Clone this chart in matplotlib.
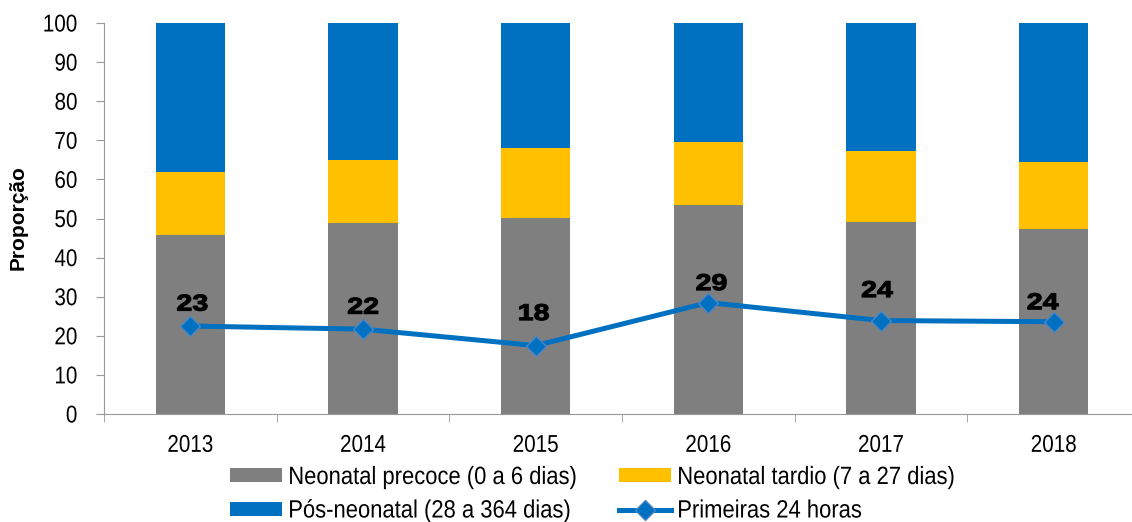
import numpy as np
import matplotlib
matplotlib.use("Agg")
import matplotlib.pyplot as plt
from matplotlib import patheffects
from matplotlib.transforms import Affine2D

plt.rcParams['font.family'] = ['Liberation Sans', 'DejaVu Sans']

# valores
anos = ['2013', '2014', '2015', '2016', '2017', '2018']
precoce = [45.9, 48.8, 50.1, 53.5, 49.2, 47.4]
tardio = [16.0, 16.2, 17.9, 16.1, 18.1, 17.1]
pos_neonatal = [38.1, 35.0, 32.0, 30.4, 32.7, 35.5]
primeiras_24h = [22.5, 21.7, 17.5, 28.5, 23.9, 23.6]
rotulos_24h = ['23', '22', '18', '29', '24', '24']
# deslocamento dos rotulos (pixels)
desloc = [(2, 22), (0, 22), (-2, 32), (3, 19), (-4, 30), (-11, 19)]

cinza = '#7F7F7F'
amarelo = '#FFC000'
azul = '#0070C0'


class Esticar(patheffects.AbstractPathEffect):
    """escala horizontal do texto (fonte estreita / larga)"""

    def __init__(self, sx, ancora='left', lw=0.0):
        super().__init__()
        self.sx = sx
        self.ancora = ancora
        self.lw = lw

    def draw_path(self, renderer, gc, tpath, affine, rgbFace=None):
        ext = tpath.get_extents()
        if self.ancora == 'center':
            cx = (ext.x0 + ext.x1) / 2
        elif self.ancora == 'right':
            cx = ext.x1
        else:
            cx = 0
        t = Affine2D().translate(-cx, 0).scale(self.sx, 1).translate(cx, 0) + affine
        gc0 = renderer.new_gc()
        gc0.copy_properties(gc)
        if self.lw > 0 and rgbFace is not None:
            gc0.set_linewidth(self.lw)
            gc0.set_foreground(rgbFace)
            gc0.set_joinstyle('round')
        renderer.draw_path(gc0, tpath, t, rgbFace)
        gc0.restore()


fig = plt.figure(figsize=(11.32, 5.22), dpi=100)
ax = fig.add_axes([104 / 1132, 108 / 522, 1036 / 1132, 391 / 522])

x = np.arange(len(anos))
w = 0.4
b1 = ax.bar(x, precoce, w, color=cinza, label='Neonatal precoce (0 a 6 dias)')
b2 = ax.bar(x, tardio, w, bottom=precoce, color=amarelo,
            label='Neonatal tardio (7 a 27 dias)')
base2 = np.array(precoce) + np.array(tardio)
b3 = ax.bar(x, pos_neonatal, w, bottom=base2, color=azul,
            label='Pós-neonatal (28 a 364 dias)')
ln, = ax.plot(x, primeiras_24h, color=azul, lw=3.6, marker='D', ms=10,
              mfc=azul, mec='#4A86C8', mew=1, label='Primeiras 24 horas')

for i, (v, t) in enumerate(zip(primeiras_24h, rotulos_24h)):
    ax.annotate(t, (x[i], v), xytext=desloc[i], textcoords='offset pixels',
                ha='center', va='center', fontsize=16.5, fontweight='bold',
                path_effects=[Esticar(1.25, 'center', lw=0.8)])

ax.set_xlim(-0.5, len(anos) - 0.5)
ax.set_ylim(0, 100)
ax.set_yticks(range(0, 101, 10))
ax.set_xticks(x)
ax.set_xticklabels(anos)
ax.set_xticks(np.arange(-0.5, len(anos)), minor=True)
ax.tick_params(axis='x', which='major', length=0, pad=15, labelsize=17.5)
ax.tick_params(axis='x', which='minor', length=5.5, color='#999999', direction='out')
ax.tick_params(axis='y', length=5.5, color='#999999', labelsize=17.5, pad=13.5)
for lab in ax.get_xticklabels():
    lab.set_path_effects([Esticar(0.85, 'center')])
for lab in ax.get_yticklabels():
    lab.set_path_effects([Esticar(0.85, 'right')])

for s in ['top', 'right']:
    ax.spines[s].set_visible(False)
for s in ['left', 'bottom']:
    ax.spines[s].set_color('#999999')

fig.text(18 / 1132, 1 - 218 / 522, 'Proporção', rotation=90, ha='center',
         va='center', fontsize=15, fontweight='bold')

leg_kw = dict(loc='upper left', frameon=False, fontsize=18, borderpad=0,
              borderaxespad=0, handlelength=2.08, handleheight=0.5,
              handletextpad=0.25, labelspacing=0.38)
leg1 = fig.legend([b1, b3], [b1.get_label(), b3.get_label()],
                  bbox_to_anchor=(230 / 1132, 1 - 465 / 522), **leg_kw)
leg2 = fig.legend([b2, ln], [b2.get_label(), ln.get_label()],
                  bbox_to_anchor=(619 / 1132, 1 - 465 / 522), **leg_kw)
for leg in (leg1, leg2):
    for txt in leg.get_texts():
        txt.set_path_effects([Esticar(0.88, 'left')])

fig.savefig('out.png', dpi=100)
